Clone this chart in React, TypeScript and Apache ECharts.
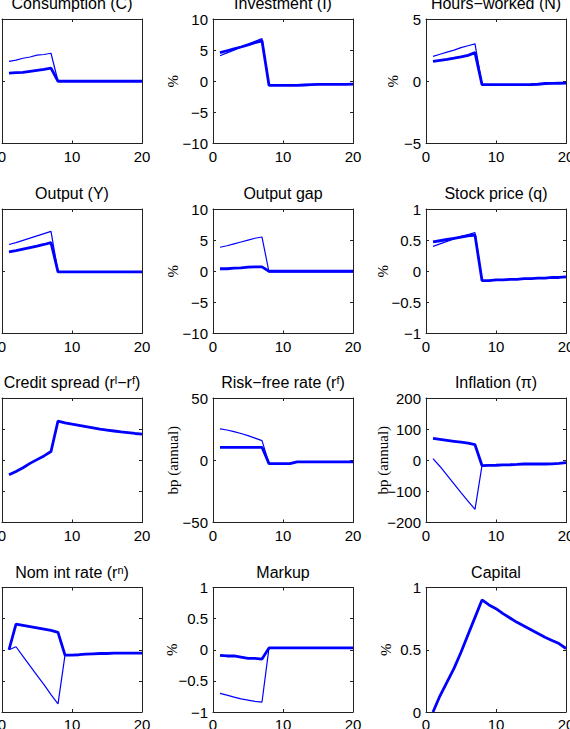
import React, { useEffect, useRef } from "react";
import * as echarts from "echarts";

// Impulse responses over 20 quarters: thick = baseline, thin = alternative
const periods = [1, 2, 3, 4, 5, 6, 7, 8, 9, 10, 11, 12, 13, 14, 15, 16, 17, 18, 19, 20];

const consumptionThick = [0.65, 0.7, 0.72, 0.8, 0.88, 0.95, 1.05, 0, 0, 0, 0, 0, 0, 0, 0, 0, 0, 0, 0, 0];
const consumptionThin = [1.6, 1.7, 1.85, 1.95, 2.1, 2.15, 2.25, 0, 0, 0, 0, 0, 0, 0, 0, 0, 0, 0, 0, 0];

const investmentThick = [4.6, 4.9, 5.2, 5.5, 5.85, 6.2, 6.5, -0.65, -0.65, -0.65, -0.65, -0.65, -0.6, -0.55, -0.5, -0.5, -0.5, -0.5, -0.5, -0.45];
const investmentThin = [4.1, 4.55, 5.0, 5.5, 5.95, 6.4, 6.85, -0.65, -0.65, -0.65, -0.65, -0.65, -0.6, -0.55, -0.5, -0.5, -0.5, -0.5, -0.5, -0.45];

const hoursThick = [1.6, 1.68, 1.76, 1.85, 1.95, 2.08, 2.3, -0.27, -0.27, -0.27, -0.27, -0.27, -0.27, -0.27, -0.26, -0.24, -0.18, -0.17, -0.16, -0.15];
const hoursThin = [2.0, 2.17, 2.34, 2.5, 2.7, 2.85, 3.0, -0.27, -0.27, -0.27, -0.27, -0.27, -0.27, -0.27, -0.26, -0.24, -0.18, -0.17, -0.16, -0.15];

const outputThick = [1.55, 1.65, 1.78, 1.9, 2.02, 2.15, 2.3, -0.05, -0.05, -0.05, -0.05, -0.05, -0.05, -0.05, -0.05, -0.05, -0.05, -0.05, -0.05, -0.05];
const outputThin = [2.15, 2.3, 2.48, 2.66, 2.84, 3.02, 3.2, -0.05, -0.05, -0.05, -0.05, -0.05, -0.05, -0.05, -0.05, -0.05, -0.05, -0.05, -0.05, -0.05];

const outputGapThick = [0.4, 0.4, 0.5, 0.55, 0.65, 0.7, 0.7, 0, 0, 0, 0, 0, 0, 0, 0, 0, 0, 0, 0, 0];
const outputGapThin = [3.85, 4.1, 4.4, 4.7, 5.0, 5.3, 5.5, -0.12, -0.12, -0.12, -0.12, -0.12, -0.12, -0.12, -0.12, -0.12, -0.12, -0.12, -0.12, -0.12];

const stockThick = [0.47, 0.49, 0.51, 0.53, 0.55, 0.57, 0.58, -0.15, -0.15, -0.14, -0.14, -0.13, -0.13, -0.12, -0.12, -0.11, -0.11, -0.1, -0.1, -0.09];
const stockThin = [0.4, 0.44, 0.48, 0.52, 0.56, 0.59, 0.62, -0.15, -0.15, -0.14, -0.14, -0.13, -0.13, -0.12, -0.12, -0.11, -0.11, -0.1, -0.1, -0.09];

const creditSpread = [76.8, 82, 88, 95, 101, 107, 114, 163, 160, 158, 156, 154, 152, 150, 148.5, 147, 145.5, 144.5, 143, 142];

const riskFreeThick = [10.4, 10.4, 10.4, 10.4, 10.4, 10.4, 10.4, -2.7, -2.7, -2.7, -2.7, -1.3, -1.3, -1.3, -1.3, -1.3, -1.3, -1.3, -1.3, -1.3];
const riskFreeThin = [25.2, 24.3, 23, 21.5, 19.8, 17.8, 15.8, -2.7, -2.7, -2.7, -2.7, -1.3, -1.3, -1.3, -1.3, -1.3, -1.3, -1.3, -1.3, -1.3];

const inflationThick = [70, 67, 64, 61, 58, 55, 50, -17, -16.5, -16, -15, -14.5, -13.5, -12, -12, -12, -12, -11.5, -10, -7.5];
const inflationThin = [5, -20, -48, -76, -104, -131, -158, -17, -16.5, -16, -15, -14.5, -13.5, -12, -12, -12, -12, -11.5, -10, -7.5];

const nomRateThick = [0, 41, 39, 37, 35, 33, 31, 28, -8.5, -8.5, -8, -7, -6.5, -6, -6, -5.5, -5.5, -5.3, -5.3, -5.3];
const nomRateThin = [0, 4.8, -10.5, -26, -41, -56, -72, -87, -8.5, -8.5, -8, -7, -6.5, -6, -6, -5.5, -5.5, -5.3, -5.3, -5.3];

const markupThick = [-0.09, -0.1, -0.1, -0.12, -0.14, -0.14, -0.15, 0.03, 0.03, 0.03, 0.03, 0.03, 0.03, 0.03, 0.03, 0.03, 0.03, 0.03, 0.03, 0.03];
const markupThin = [-0.7, -0.73, -0.76, -0.79, -0.81, -0.83, -0.84, 0.03, 0.03, 0.03, 0.03, 0.03, 0.03, 0.03, 0.03, 0.03, 0.03, 0.03, 0.03, 0.03];

const capital = [0, 0.13, 0.24, 0.35, 0.48, 0.62, 0.76, 0.9, 0.86, 0.83, 0.79, 0.755, 0.72, 0.69, 0.66, 0.63, 0.6, 0.575, 0.55, 0.51];

const xTicks = { min: 0, max: 20, step: 10 };

type Panel = {
  title: string;
  ylabel: string;
  yMin: number;
  yMax: number;
  yStep: number;
  thick: number[];
  thin: number[] | null;
  labelGap: number;
  showYLabels: boolean;
};

const panels: Panel[] = [
  { title: "Consumption (C)", ylabel: "", yMin: -5, yMax: 5, yStep: 5, thick: consumptionThick, thin: consumptionThin, labelGap: 40, showYLabels: false },
  { title: "Investment (I)", ylabel: "%", yMin: -10, yMax: 10, yStep: 5, thick: investmentThick, thin: investmentThin, labelGap: 40, showYLabels: true },
  { title: "Hours\u2212worked (N)", ylabel: "%", yMin: -5, yMax: 5, yStep: 5, thick: hoursThick, thin: hoursThin, labelGap: 33, showYLabels: true },
  { title: "Output (Y)", ylabel: "", yMin: -5, yMax: 5, yStep: 5, thick: outputThick, thin: outputThin, labelGap: 40, showYLabels: false },
  { title: "Output gap", ylabel: "%", yMin: -10, yMax: 10, yStep: 5, thick: outputGapThick, thin: outputGapThin, labelGap: 40, showYLabels: true },
  { title: "Stock price (q)", ylabel: "%", yMin: -1, yMax: 1, yStep: 0.5, thick: stockThick, thin: stockThin, labelGap: 43, showYLabels: true },
  { title: "Credit spread (r{sup|l}\u2212r{sup|f})", ylabel: "", yMin: 0, yMax: 200, yStep: 50, thick: creditSpread, thin: null, labelGap: 40, showYLabels: false },
  { title: "Risk\u2212free rate (r{sup|f})", ylabel: "bp (annual)", yMin: -50, yMax: 50, yStep: 50, thick: riskFreeThick, thin: riskFreeThin, labelGap: 40, showYLabels: true },
  { title: "Inflation (\u03c0)", ylabel: "bp (annual)", yMin: -200, yMax: 200, yStep: 100, thick: inflationThick, thin: inflationThin, labelGap: 43, showYLabels: true },
  { title: "Nom int rate (r{sup|n})", ylabel: "", yMin: -100, yMax: 100, yStep: 50, thick: nomRateThick, thin: nomRateThin, labelGap: 40, showYLabels: false },
  { title: "Markup", ylabel: "%", yMin: -1, yMax: 1, yStep: 0.5, thick: markupThick, thin: markupThin, labelGap: 41, showYLabels: true },
  { title: "Capital", ylabel: "%", yMin: 0, yMax: 1, yStep: 0.5, thick: capital, thin: null, labelGap: 40, showYLabels: true },
];

const SANS = '"Liberation Sans", Arial, Helvetica, sans-serif';
const SERIF = '"Liberation Serif", "Times New Roman", serif';
const BLUE = "#0000ff";
const AXIS = "#222222";

const colLeft = [2, 213, 426];
const rowTop = [19, 209, 398, 587.5];
const plotW = 140;
const plotH = 124.5;

const minus = (v: number) => String(v).replace("-", "\u2212");

function buildOption() {
  const grid: any[] = [];
  const xAxis: any[] = [];
  const yAxis: any[] = [];
  const series: any[] = [];
  const graphic: any[] = [];

  panels.forEach((p, i) => {
    const col = i % 3;
    const row = Math.floor(i / 3);
    const left = colLeft[col];
    const top = rowTop[row];
    // fixed plot boxes; labels may run past the page edge
    grid.push({ left, top, width: plotW, height: plotH, containLabel: false, outerBoundsMode: "none" });

    const lineStyle = { color: AXIS, width: 1 };
    const tick = { show: true, inside: true, length: 3, lineStyle };
    const xBase = {
      gridIndex: i,
      type: "value",
      min: xTicks.min,
      max: xTicks.max,
      interval: xTicks.step,
      splitLine: { show: false },
      axisLine: { show: true, onZero: false, lineStyle },
      axisTick: tick,
    };
    // bottom axis with labels, top axis mirrors the ticks
    xAxis.push({
      ...xBase,
      position: "bottom",
      axisLabel: { show: true, margin: 5, fontSize: 15, color: "#000", fontFamily: SANS, showMinLabel: true, showMaxLabel: true },
    });
    xAxis.push({ ...xBase, position: "top", axisLabel: { show: false } });

    const yBase = {
      gridIndex: i,
      type: "value",
      min: p.yMin,
      max: p.yMax,
      interval: p.yStep,
      splitLine: { show: false },
      axisLine: { show: true, onZero: false, lineStyle },
      axisTick: tick,
    };
    yAxis.push({
      ...yBase,
      position: "left",
      axisLabel: {
        show: p.showYLabels,
        margin: 5,
        fontSize: 15,
        color: "#000",
        fontFamily: SANS,
        showMinLabel: true,
        showMaxLabel: true,
        formatter: (v: number) => minus(v),
      },
    });
    yAxis.push({ ...yBase, position: "right", axisLabel: { show: false } });

    const xIdx = i * 2;
    const yIdx = i * 2;
    if (p.thin) {
      series.push({
        type: "line",
        xAxisIndex: xIdx,
        yAxisIndex: yIdx,
        data: periods.map((x, k) => [x, p.thin![k]]),
        showSymbol: false,
        lineStyle: { color: BLUE, width: 1.2 },
        z: 3,
      });
    }
    series.push({
      type: "line",
      xAxisIndex: xIdx,
      yAxisIndex: yIdx,
      data: periods.map((x, k) => [x, p.thick[k]]),
      showSymbol: false,
      lineStyle: { color: BLUE, width: 2.8 },
      z: 4,
    });

    graphic.push({
      type: "text",
      x: left + plotW / 2,
      y: top - 15.5,
      style: {
        text: p.title,
        fontSize: 16,
        fontFamily: SANS,
        fill: "#000",
        align: "center",
        verticalAlign: "middle",
        textAlign: "center",
        textVerticalAlign: "middle",
        rich: {
          sup: { fontSize: 11, lineHeight: 7, verticalAlign: "top", fontFamily: SANS, fill: "#000" },
        },
      },
    });
    if (p.ylabel) {
      graphic.push({
        type: "text",
        x: left - p.labelGap,
        y: top + plotH / 2,
        rotation: Math.PI / 2,
        style: {
          text: p.ylabel,
          fontSize: 15,
          fontFamily: SERIF,
          fill: "#000",
          align: "center",
          verticalAlign: "middle",
          textAlign: "center",
          textVerticalAlign: "middle",
        },
      });
    }
  });

  return {
    animation: false,
    backgroundColor: "#ffffff",
    grid,
    xAxis,
    yAxis,
    series,
    graphic,
  };
}

export default function App() {
  const ref = useRef<HTMLDivElement>(null);
  useEffect(() => {
    if (!ref.current) return;
    const chart = echarts.init(ref.current, undefined, { renderer: "svg" });
    chart.setOption(buildOption() as any);
    return () => chart.dispose();
  }, []);
  return (
    <div
      ref={ref}
      style={{ position: "fixed", left: 0, top: 0, width: 570, height: 729, background: "#fff" }}
    />
  );
}
